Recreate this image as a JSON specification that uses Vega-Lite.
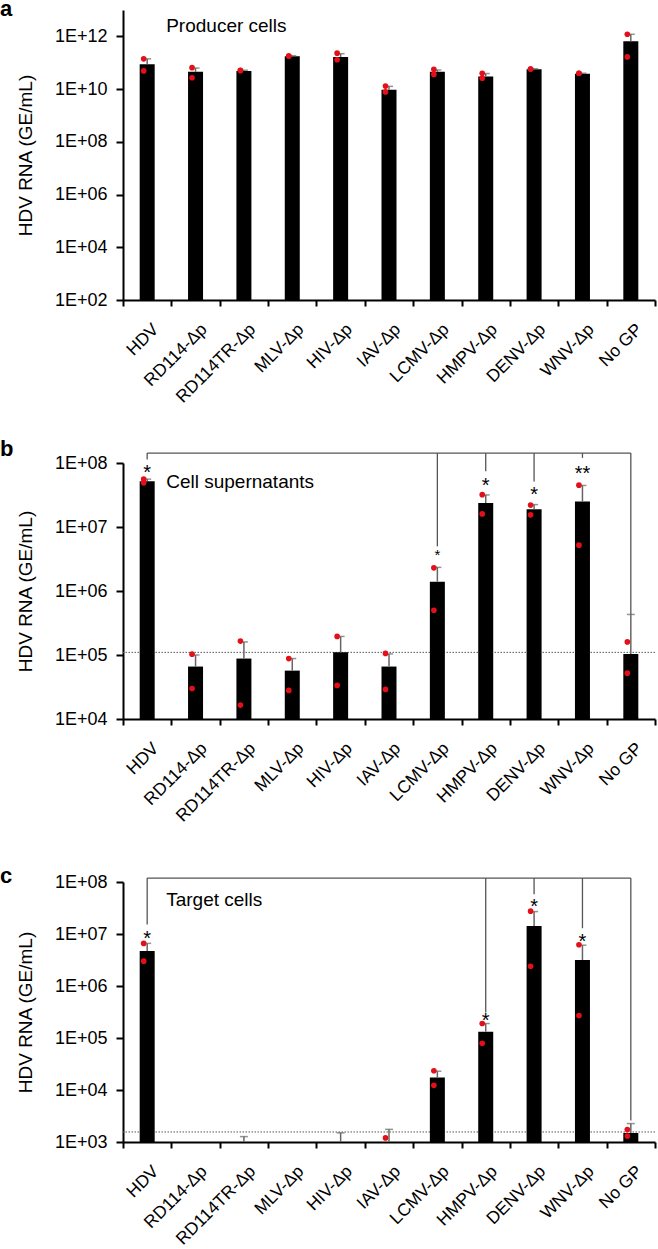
{
  "$schema": "https://vega.github.io/schema/vega-lite/v6.json",
  "autosize": {"type": "none"},
  "padding": {"left": 123, "top": 10, "right": 535, "bottom": 1239},
  "background": "white",
  "bounds": "flush",
  "spacing": 163,
  "config": {
    "font": "Liberation Sans",
    "view": {"stroke": null},
    "axis": {"domainColor": "black", "domainWidth": 2, "tickColor": "black", "tickWidth": 2, "labelColor": "black", "titleColor": "black", "grid": false, "labelFont": "Liberation Sans", "titleFont": "Liberation Sans", "labelOverlap": false}
  },
  "datasets": {
    "bars": [
      {"p": "a", "g": "HDV", "v": 8.7e10, "u": 1.4e11},
      {"p": "a", "g": "RD114-Δp", "v": 4.5e10, "u": 6.3e10},
      {"p": "a", "g": "RD114TR-Δp", "v": 4.9e10, "u": 5.2e10},
      {"p": "a", "g": "MLV-Δp", "v": 1.75e11, "u": 1.85e11},
      {"p": "a", "g": "HIV-Δp", "v": 1.66e11, "u": 2.2e11},
      {"p": "a", "g": "IAV-Δp", "v": 9.5e9, "u": 1.27e10},
      {"p": "a", "g": "LCMV-Δp", "v": 4.5e10, "u": 5.3e10},
      {"p": "a", "g": "HMPV-Δp", "v": 3.0e10, "u": 3.9e10},
      {"p": "a", "g": "DENV-Δp", "v": 5.6e10, "u": 5.9e10},
      {"p": "a", "g": "WNV-Δp", "v": 3.8e10, "u": 4.0e10},
      {"p": "a", "g": "No GP", "v": 6.5e11, "u": 1.2e12},
      {"p": "b", "g": "HDV", "v": 5.2e7, "u": 5.6e7},
      {"p": "b", "g": "RD114-Δp", "v": 6.6e4, "u": 1.0e5},
      {"p": "b", "g": "RD114TR-Δp", "v": 8.8e4, "u": 1.6e5},
      {"p": "b", "g": "MLV-Δp", "v": 5.7e4, "u": 8.8e4},
      {"p": "b", "g": "HIV-Δp", "v": 1.1e5, "u": 1.95e5},
      {"p": "b", "g": "IAV-Δp", "v": 6.6e4, "u": 1.04e5},
      {"p": "b", "g": "LCMV-Δp", "v": 1.4e6, "u": 2.34e6},
      {"p": "b", "g": "HMPV-Δp", "v": 2.37e7, "u": 3.17e7},
      {"p": "b", "g": "DENV-Δp", "v": 1.9e7, "u": 2.24e7},
      {"p": "b", "g": "WNV-Δp", "v": 2.5e7, "u": 4.46e7},
      {"p": "b", "g": "No GP", "v": 1.04e5, "u": 4.3e5},
      {"p": "c", "g": "HDV", "v": 4.7e6, "u": 6.6e6},
      {"p": "c", "g": "RD114-Δp", "v": 1000, "u": null},
      {"p": "c", "g": "RD114TR-Δp", "v": 1000, "u": 1270},
      {"p": "c", "g": "MLV-Δp", "v": 1000, "u": null},
      {"p": "c", "g": "HIV-Δp", "v": 1000, "u": 1500},
      {"p": "c", "g": "IAV-Δp", "v": 1000, "u": 1750},
      {"p": "c", "g": "LCMV-Δp", "v": 1.73e4, "u": 2.3e4},
      {"p": "c", "g": "HMPV-Δp", "v": 1.32e5, "u": 1.9e5},
      {"p": "c", "g": "DENV-Δp", "v": 1.42e7, "u": 2.7e7},
      {"p": "c", "g": "WNV-Δp", "v": 3.16e6, "u": 6.1e6},
      {"p": "c", "g": "No GP", "v": 1490, "u": 2260}
    ],
    "dots": [
      {"p": "a", "g": "HDV", "v": 1.4e11}, {"p": "a", "g": "HDV", "v": 4.9e10},
      {"p": "a", "g": "RD114-Δp", "v": 6.5e10}, {"p": "a", "g": "RD114-Δp", "v": 2.7e10},
      {"p": "a", "g": "RD114TR-Δp", "v": 5.2e10}, {"p": "a", "g": "RD114TR-Δp", "v": 5.0e10},
      {"p": "a", "g": "MLV-Δp", "v": 1.8e11}, {"p": "a", "g": "MLV-Δp", "v": 1.8e11},
      {"p": "a", "g": "HIV-Δp", "v": 2.3e11}, {"p": "a", "g": "HIV-Δp", "v": 1.3e11},
      {"p": "a", "g": "IAV-Δp", "v": 1.3e10}, {"p": "a", "g": "IAV-Δp", "v": 7.8e9},
      {"p": "a", "g": "LCMV-Δp", "v": 5.6e10}, {"p": "a", "g": "LCMV-Δp", "v": 3.6e10},
      {"p": "a", "g": "HMPV-Δp", "v": 4.0e10}, {"p": "a", "g": "HMPV-Δp", "v": 2.6e10},
      {"p": "a", "g": "DENV-Δp", "v": 5.8e10}, {"p": "a", "g": "DENV-Δp", "v": 5.8e10},
      {"p": "a", "g": "WNV-Δp", "v": 4.0e10}, {"p": "a", "g": "WNV-Δp", "v": 4.0e10},
      {"p": "a", "g": "No GP", "v": 1.2e12}, {"p": "a", "g": "No GP", "v": 1.66e11},
      {"p": "b", "g": "HDV", "v": 5.6e7}, {"p": "b", "g": "HDV", "v": 4.9e7},
      {"p": "b", "g": "RD114-Δp", "v": 1.03e5}, {"p": "b", "g": "RD114-Δp", "v": 3.0e4},
      {"p": "b", "g": "RD114TR-Δp", "v": 1.65e5}, {"p": "b", "g": "RD114TR-Δp", "v": 1.65e4},
      {"p": "b", "g": "MLV-Δp", "v": 8.8e4}, {"p": "b", "g": "MLV-Δp", "v": 2.8e4},
      {"p": "b", "g": "HIV-Δp", "v": 1.95e5}, {"p": "b", "g": "HIV-Δp", "v": 3.35e4},
      {"p": "b", "g": "IAV-Δp", "v": 1.06e5}, {"p": "b", "g": "IAV-Δp", "v": 2.9e4},
      {"p": "b", "g": "LCMV-Δp", "v": 2.3e6}, {"p": "b", "g": "LCMV-Δp", "v": 5.0e5},
      {"p": "b", "g": "HMPV-Δp", "v": 3.2e7}, {"p": "b", "g": "HMPV-Δp", "v": 1.6e7},
      {"p": "b", "g": "DENV-Δp", "v": 2.2e7}, {"p": "b", "g": "DENV-Δp", "v": 1.55e7},
      {"p": "b", "g": "WNV-Δp", "v": 4.5e7}, {"p": "b", "g": "WNV-Δp", "v": 5.2e6},
      {"p": "b", "g": "No GP", "v": 1.6e5}, {"p": "b", "g": "No GP", "v": 5.2e4},
      {"p": "c", "g": "HDV", "v": 6.6e6}, {"p": "c", "g": "HDV", "v": 3.0e6},
      {"p": "c", "g": "IAV-Δp", "v": 1200},
      {"p": "c", "g": "LCMV-Δp", "v": 2.35e4}, {"p": "c", "g": "LCMV-Δp", "v": 1.23e4},
      {"p": "c", "g": "HMPV-Δp", "v": 1.9e5}, {"p": "c", "g": "HMPV-Δp", "v": 7.9e4},
      {"p": "c", "g": "DENV-Δp", "v": 2.75e7}, {"p": "c", "g": "DENV-Δp", "v": 2.4e6},
      {"p": "c", "g": "WNV-Δp", "v": 6.2e6}, {"p": "c", "g": "WNV-Δp", "v": 2.7e5},
      {"p": "c", "g": "No GP", "v": 1730}, {"p": "c", "g": "No GP", "v": 1300}
    ],
    "refs": [
      {"p": "b", "v": 1.1e5},
      {"p": "c", "v": 1560}
    ],
    "hlines": [
      {"p": "b", "g": "HDV", "g2": "No GP", "v": 1.43e8},
      {"p": "c", "g": "HDV", "g2": "No GP", "v": 1.19e8}
    ],
    "drops": [
      {"p": "b", "g": "HDV", "v": 1.43e8, "v2": 1.13e8},
      {"p": "b", "g": "LCMV-Δp", "v": 1.43e8, "v2": 4.98e6},
      {"p": "b", "g": "HMPV-Δp", "v": 1.43e8, "v2": 7.4e7},
      {"p": "b", "g": "DENV-Δp", "v": 1.43e8, "v2": 5.16e7},
      {"p": "b", "g": "WNV-Δp", "v": 1.43e8, "v2": 1.2e8},
      {"p": "b", "g": "No GP", "v": 1.43e8, "v2": 4.3e5},
      {"p": "c", "g": "HDV", "v": 1.19e8, "v2": 1.52e7},
      {"p": "c", "g": "HMPV-Δp", "v": 1.19e8, "v2": 3.08e5},
      {"p": "c", "g": "DENV-Δp", "v": 1.19e8, "v2": 5.8e7},
      {"p": "c", "g": "WNV-Δp", "v": 1.19e8, "v2": 1.29e7},
      {"p": "c", "g": "No GP", "v": 1.19e8, "v2": 2600}
    ],
    "stars": [
      {"p": "b", "g": "HDV", "v": 8.1e7, "t": "*"},
      {"p": "b", "g": "LCMV-Δp", "v": 4.06e6, "t": "*"},
      {"p": "b", "g": "HMPV-Δp", "v": 5.05e7, "t": "*"},
      {"p": "b", "g": "DENV-Δp", "v": 3.73e7, "t": "*"},
      {"p": "b", "g": "WNV-Δp", "v": 7.85e7, "t": "**"},
      {"p": "c", "g": "HDV", "v": 9.9e6, "t": "*"},
      {"p": "c", "g": "HMPV-Δp", "v": 2.61e5, "t": "*"},
      {"p": "c", "g": "DENV-Δp", "v": 4.07e7, "t": "*"},
      {"p": "c", "g": "WNV-Δp", "v": 8.65e6, "t": "*"}
    ],
    "notes": [
      {"p": "a", "g": "HDV", "v": 2.4e12, "t": "Producer cells"},
      {"p": "b", "g": "HDV", "v": 5.05e7, "t": "Cell supernatants"},
      {"p": "c", "g": "HDV", "v": 4.45e7, "t": "Target cells"}
    ]
  },
  "vconcat": [
    {
      "title": {"text": "a", "anchor": "start", "frame": "group", "fontSize": 22, "fontWeight": "bold", "baseline": "alphabetic", "offset": 0, "dx": -123, "dy": 28, "color": "black", "font": "Liberation Sans"},
      "width": 532,
      "height": 290,
      "layer": [
        {
          "data": {"name": "bars"},
          "transform": [{"filter": "datum.p == 'a'"}],
          "mark": {"type": "bar", "color": "black", "width": 15},
          "encoding": {
            "x": {"field": "g", "type": "nominal", "scale": {"domain": ["HDV","RD114-Δp","RD114TR-Δp","MLV-Δp","HIV-Δp","IAV-Δp","LCMV-Δp","HMPV-Δp","DENV-Δp","WNV-Δp","No GP"], "paddingInner": 0, "paddingOuter": 0}, "axis": {"title": null, "labelAngle": -45, "labelAlign": "right", "labelBaseline": "top", "labelPadding": 14, "labelFontSize": 17.5, "tickBand": "extent", "tickSize": 6, "labelOffset": 2}},
            "y": {"field": "v", "type": "quantitative", "stack": null, "scale": {"type": "log", "domain": [100, 1e13], "nice": false}, "axis": {"title": "HDV RNA (GE/mL)", "titleFontSize": 19, "titleFontWeight": "normal", "titlePadding": 19, "values": [1e2, 1e4, 1e6, 1e8, 1e10, 1e12], "labelExpr": "'1E+' + (round(log(datum.value)/LN10) < 10 ? '0' : '') + round(log(datum.value)/LN10)", "labelFontSize": 18, "tickSize": 7, "labelPadding": 9}}
          }
        },
        {
          "data": {"name": "bars"},
          "transform": [{"filter": "datum.p == 'a' && isValid(datum.u)"}],
          "mark": {"type": "rule", "color": "#666666", "strokeWidth": 1.5},
          "encoding": {
            "x": {"field": "g", "type": "nominal"},
            "y": {"field": "v", "type": "quantitative"},
            "y2": {"field": "u"}
          }
        },
        {
          "data": {"name": "bars"},
          "transform": [{"filter": "datum.p == 'a' && isValid(datum.u)"}],
          "mark": {"type": "tick", "color": "#666666", "thickness": 1.5, "size": 8},
          "encoding": {
            "x": {"field": "g", "type": "nominal"},
            "y": {"field": "u", "type": "quantitative"}
          }
        },
        {
          "data": {"name": "dots"},
          "transform": [{"filter": "datum.p == 'a'"}],
          "mark": {"type": "point", "filled": true, "size": 32, "color": "#e3101a", "opacity": 1, "xOffset": -3.5},
          "encoding": {
            "x": {"field": "g", "type": "nominal"},
            "y": {"field": "v", "type": "quantitative"}
          }
        },
        {
          "data": {"name": "notes"},
          "transform": [{"filter": "datum.p == 'a'"}],
          "mark": {"type": "text", "align": "left", "baseline": "middle", "dx": 19, "fontSize": 19, "color": "black"},
          "encoding": {
            "x": {"field": "g", "type": "nominal"},
            "y": {"field": "v", "type": "quantitative"},
            "text": {"field": "t"}
          }
        }
      ]
    },
    {
      "title": {"text": "b", "anchor": "start", "frame": "group", "fontSize": 22, "fontWeight": "bold", "baseline": "alphabetic", "offset": 0, "dx": -123, "dy": 26, "color": "black", "font": "Liberation Sans"},
      "width": 532,
      "height": 256,
      "layer": [
        {
          "data": {"name": "refs"},
          "transform": [{"filter": "datum.p == 'b'"}],
          "mark": {"type": "rule", "color": "#555555", "strokeWidth": 1, "strokeDash": [1.5, 1.5]},
          "encoding": {
            "y": {"field": "v", "type": "quantitative"}
          }
        },
        {
          "data": {"name": "bars"},
          "transform": [{"filter": "datum.p == 'b'"}],
          "mark": {"type": "bar", "color": "black", "width": 15},
          "encoding": {
            "x": {"field": "g", "type": "nominal", "scale": {"domain": ["HDV","RD114-Δp","RD114TR-Δp","MLV-Δp","HIV-Δp","IAV-Δp","LCMV-Δp","HMPV-Δp","DENV-Δp","WNV-Δp","No GP"], "paddingInner": 0, "paddingOuter": 0}, "axis": {"title": null, "labelAngle": -45, "labelAlign": "right", "labelBaseline": "top", "labelPadding": 14, "labelFontSize": 17.5, "tickBand": "extent", "tickSize": 6, "labelOffset": 2}},
            "y": {"field": "v", "type": "quantitative", "stack": null, "scale": {"type": "log", "domain": [1e4, 1e8], "nice": false}, "axis": {"title": "HDV RNA (GE/mL)", "titleFontSize": 19, "titleFontWeight": "normal", "titlePadding": 19, "values": [1e4, 1e5, 1e6, 1e7, 1e8], "labelExpr": "'1E+' + (round(log(datum.value)/LN10) < 10 ? '0' : '') + round(log(datum.value)/LN10)", "labelFontSize": 18, "tickSize": 7, "labelPadding": 9}}
          }
        },
        {
          "data": {"name": "bars"},
          "transform": [{"filter": "datum.p == 'b' && isValid(datum.u)"}],
          "mark": {"type": "rule", "color": "#666666", "strokeWidth": 1.5},
          "encoding": {
            "x": {"field": "g", "type": "nominal"},
            "y": {"field": "v", "type": "quantitative"},
            "y2": {"field": "u"}
          }
        },
        {
          "data": {"name": "bars"},
          "transform": [{"filter": "datum.p == 'b' && isValid(datum.u)"}],
          "mark": {"type": "tick", "color": "#666666", "thickness": 1.5, "size": 8},
          "encoding": {
            "x": {"field": "g", "type": "nominal"},
            "y": {"field": "u", "type": "quantitative"}
          }
        },
        {
          "data": {"name": "hlines"},
          "transform": [{"filter": "datum.p == 'b'"}],
          "mark": {"type": "rule", "color": "#555555", "strokeWidth": 1.3},
          "encoding": {
            "x": {"field": "g", "type": "nominal"},
            "x2": {"field": "g2"},
            "y": {"field": "v", "type": "quantitative"}
          }
        },
        {
          "data": {"name": "drops"},
          "transform": [{"filter": "datum.p == 'b'"}],
          "mark": {"type": "rule", "color": "#555555", "strokeWidth": 1.3},
          "encoding": {
            "x": {"field": "g", "type": "nominal"},
            "y": {"field": "v", "type": "quantitative"},
            "y2": {"field": "v2"}
          }
        },
        {
          "data": {"name": "dots"},
          "transform": [{"filter": "datum.p == 'b'"}],
          "mark": {"type": "point", "filled": true, "size": 32, "color": "#e3101a", "opacity": 1, "xOffset": -3.5},
          "encoding": {
            "x": {"field": "g", "type": "nominal"},
            "y": {"field": "v", "type": "quantitative"}
          }
        },
        {
          "data": {"name": "stars"},
          "transform": [{"filter": "datum.p == 'b' && datum.g != 'LCMV-Δp'"}],
          "mark": {"type": "text", "align": "center", "baseline": "middle", "dy": 4.5, "fontSize": 20, "color": "black"},
          "encoding": {
            "x": {"field": "g", "type": "nominal"},
            "y": {"field": "v", "type": "quantitative"},
            "text": {"field": "t"}
          }
        },
        {
          "data": {"name": "stars"},
          "transform": [{"filter": "datum.p == 'b' && datum.g == 'LCMV-Δp'"}],
          "mark": {"type": "text", "align": "center", "baseline": "middle", "dy": 3.4, "fontSize": 15, "color": "black"},
          "encoding": {
            "x": {"field": "g", "type": "nominal"},
            "y": {"field": "v", "type": "quantitative"},
            "text": {"field": "t"}
          }
        },
        {
          "data": {"name": "notes"},
          "transform": [{"filter": "datum.p == 'b'"}],
          "mark": {"type": "text", "align": "left", "baseline": "middle", "dx": 19, "fontSize": 19, "color": "black"},
          "encoding": {
            "x": {"field": "g", "type": "nominal"},
            "y": {"field": "v", "type": "quantitative"},
            "text": {"field": "t"}
          }
        }
      ]
    },
    {
      "title": {"text": "c", "anchor": "start", "frame": "group", "fontSize": 22, "fontWeight": "bold", "baseline": "alphabetic", "offset": 0, "dx": -123, "dy": 32, "color": "black", "font": "Liberation Sans"},
      "width": 532,
      "height": 260,
      "layer": [
        {
          "data": {"name": "refs"},
          "transform": [{"filter": "datum.p == 'c'"}],
          "mark": {"type": "rule", "color": "#555555", "strokeWidth": 1, "strokeDash": [1.5, 1.5]},
          "encoding": {
            "y": {"field": "v", "type": "quantitative"}
          }
        },
        {
          "data": {"name": "bars"},
          "transform": [{"filter": "datum.p == 'c'"}],
          "mark": {"type": "bar", "color": "black", "width": 15},
          "encoding": {
            "x": {"field": "g", "type": "nominal", "scale": {"domain": ["HDV","RD114-Δp","RD114TR-Δp","MLV-Δp","HIV-Δp","IAV-Δp","LCMV-Δp","HMPV-Δp","DENV-Δp","WNV-Δp","No GP"], "paddingInner": 0, "paddingOuter": 0}, "axis": {"title": null, "labelAngle": -45, "labelAlign": "right", "labelBaseline": "top", "labelPadding": 14, "labelFontSize": 17.5, "tickBand": "extent", "tickSize": 6, "labelOffset": 2}},
            "y": {"field": "v", "type": "quantitative", "stack": null, "scale": {"type": "log", "domain": [1e3, 1e8], "nice": false}, "axis": {"title": "HDV RNA (GE/mL)", "titleFontSize": 19, "titleFontWeight": "normal", "titlePadding": 19, "values": [1e3, 1e4, 1e5, 1e6, 1e7, 1e8], "labelExpr": "'1E+' + (round(log(datum.value)/LN10) < 10 ? '0' : '') + round(log(datum.value)/LN10)", "labelFontSize": 18, "tickSize": 7, "labelPadding": 9}}
          }
        },
        {
          "data": {"name": "bars"},
          "transform": [{"filter": "datum.p == 'c' && isValid(datum.u)"}],
          "mark": {"type": "rule", "color": "#666666", "strokeWidth": 1.5},
          "encoding": {
            "x": {"field": "g", "type": "nominal"},
            "y": {"field": "v", "type": "quantitative"},
            "y2": {"field": "u"}
          }
        },
        {
          "data": {"name": "bars"},
          "transform": [{"filter": "datum.p == 'c' && isValid(datum.u)"}],
          "mark": {"type": "tick", "color": "#666666", "thickness": 1.5, "size": 8},
          "encoding": {
            "x": {"field": "g", "type": "nominal"},
            "y": {"field": "u", "type": "quantitative"}
          }
        },
        {
          "data": {"name": "hlines"},
          "transform": [{"filter": "datum.p == 'c'"}],
          "mark": {"type": "rule", "color": "#555555", "strokeWidth": 1.3},
          "encoding": {
            "x": {"field": "g", "type": "nominal"},
            "x2": {"field": "g2"},
            "y": {"field": "v", "type": "quantitative"}
          }
        },
        {
          "data": {"name": "drops"},
          "transform": [{"filter": "datum.p == 'c'"}],
          "mark": {"type": "rule", "color": "#555555", "strokeWidth": 1.3},
          "encoding": {
            "x": {"field": "g", "type": "nominal"},
            "y": {"field": "v", "type": "quantitative"},
            "y2": {"field": "v2"}
          }
        },
        {
          "data": {"name": "dots"},
          "transform": [{"filter": "datum.p == 'c'"}],
          "mark": {"type": "point", "filled": true, "size": 32, "color": "#e3101a", "opacity": 1, "xOffset": -3.5},
          "encoding": {
            "x": {"field": "g", "type": "nominal"},
            "y": {"field": "v", "type": "quantitative"}
          }
        },
        {
          "data": {"name": "stars"},
          "transform": [{"filter": "datum.p == 'c'"}],
          "mark": {"type": "text", "align": "center", "baseline": "middle", "dy": 4.5, "fontSize": 20, "color": "black"},
          "encoding": {
            "x": {"field": "g", "type": "nominal"},
            "y": {"field": "v", "type": "quantitative"},
            "text": {"field": "t"}
          }
        },
        {
          "data": {"name": "notes"},
          "transform": [{"filter": "datum.p == 'c'"}],
          "mark": {"type": "text", "align": "left", "baseline": "middle", "dx": 19, "fontSize": 19, "color": "black"},
          "encoding": {
            "x": {"field": "g", "type": "nominal"},
            "y": {"field": "v", "type": "quantitative"},
            "text": {"field": "t"}
          }
        }
      ]
    }
  ]
}
